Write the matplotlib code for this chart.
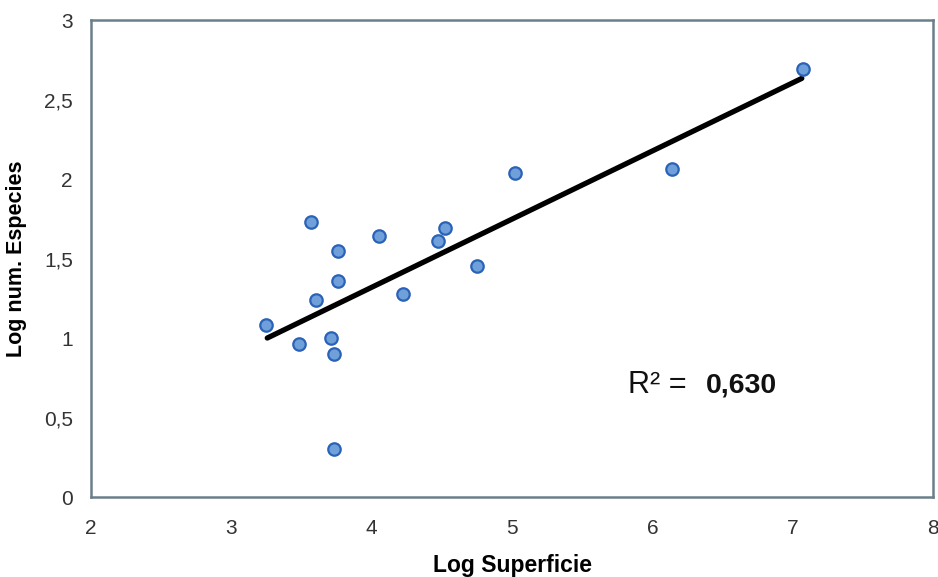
"""
Species-area relationship: log number of species vs log surface, with linear fit and R².
"""
import numpy as np
import matplotlib.pyplot as plt

plt.rcParams["font.family"] = ["Liberation Sans", "DejaVu Sans"]

# points
log_superficie = [3.25, 3.48, 3.57, 3.60, 3.71, 3.73, 3.73, 3.76, 3.76,
                  4.05, 4.22, 4.47, 4.52, 4.75, 5.02, 6.14, 7.07]
log_especies = [1.08, 0.96, 1.73, 1.24, 1.00, 0.90, 0.30, 1.55, 1.36,
                1.64, 1.28, 1.61, 1.69, 1.45, 2.04, 2.06, 2.69]

# trend line as drawn in the reference (start / end)
fit_x = [3.256, 7.065]
fit_y = [1.00, 2.633]
r2_label = "0,630"

SPINE_COLOR = "#6b7f8a"
TICK_COLOR = "#333333"

fig = plt.figure(figsize=(9.38, 5.77), dpi=100)
ax = fig.add_axes([0.097, 0.1386, 0.8977, 0.8267])

ax.plot(fit_x, fit_y, color="black", linewidth=3.8, solid_capstyle="round", zorder=2)
ax.scatter(log_superficie, log_especies, s=80, facecolor="#6fa0da",
           edgecolor="#2a62b8", linewidth=1.6, zorder=3)

ax.set_xlim(2, 8)
ax.set_ylim(0, 3)
ax.set_xticks(range(2, 9))
ax.set_yticks([0, 0.5, 1, 1.5, 2, 2.5, 3])
ax.set_yticklabels(["0", "0,5", "1", "1,5", "2", "2,5", "3"])
ax.tick_params(length=0, labelsize=15, labelcolor=TICK_COLOR)
ax.tick_params(axis="y", pad=13)
ax.tick_params(axis="x", pad=16)

for sp in ax.spines.values():
    sp.set_color(SPINE_COLOR)
    sp.set_linewidth(1.8)

ax.set_xlabel("Log Superficie", fontsize=16.5, fontweight="bold", labelpad=11)
ax.set_ylabel("Log num. Especies", fontsize=15.5, fontweight="bold", labelpad=12)

ax.text(5.83, 0.655, "R² =", fontsize=22, color="#111111", va="baseline", ha="left")
ax.text(6.38, 0.655, r2_label, fontsize=20.5, fontweight="bold", color="#111111",
        va="baseline", ha="left")

fig.savefig("out.png", dpi=100)
